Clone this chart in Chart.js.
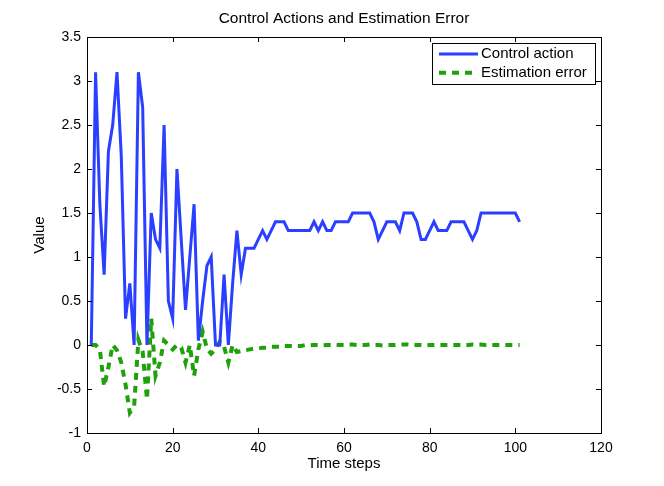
<!DOCTYPE html>
<html>
<head>
<meta charset="utf-8">
<script src="https://cdn.jsdelivr.net/npm/chart.js@4.4.1/dist/chart.umd.min.js"></script>
<style>
  html, body { margin: 0; padding: 0; background: #fff; }
  canvas { display: block; }
</style>
</head>
<body>
<canvas id="chart" width="664" height="486"></canvas>
<script>
// values, one per time step (1..101)
const controlAction = [
    0, 3.1, 1.6, 0.8, 2.2, 2.5, 3.1, 2.15, 0.3, 0.7,
    0, 3.1, 2.7, 0, 1.5, 1.2, 1.1, 2.5, 0.5, 0.3,
    2.0, 1.2, 0.4, 1.0, 1.6, 0.05, 0.5, 0.9, 1.0, 0,
    0, 0.8, 0, 0.7, 1.3, 0.8, 1.1, 1.1, 1.1, 1.2,
    1.3, 1.2, 1.3, 1.4, 1.4, 1.4, 1.3, 1.3, 1.3, 1.3,
    1.3, 1.3, 1.4, 1.3, 1.4, 1.3, 1.3, 1.4, 1.4, 1.4,
    1.4, 1.5, 1.5, 1.5, 1.5, 1.5, 1.4, 1.2, 1.3, 1.4,
    1.4, 1.4, 1.3, 1.5, 1.5, 1.5, 1.4, 1.2, 1.2, 1.3,
    1.4, 1.3, 1.3, 1.3, 1.4, 1.4, 1.4, 1.4, 1.3, 1.2,
    1.3, 1.5, 1.5, 1.5, 1.5, 1.5, 1.5, 1.5, 1.5, 1.5,
    1.4
];

const estimationError = [
    0, 0, -0.05, -0.47, -0.25, 0, -0.06, -0.2, -0.45, -0.77,
    -0.7, 0.06, -0.08, -0.62, 0.3, -0.35, -0.2, 0.05, 0, -0.05,
    0, -0.03, -0.2, 0, -0.35, -0.05, 0.15, -0.04, -0.1, -0.05,
    0.04, -0.02, -0.2, 0, -0.08, -0.07, -0.06, -0.05, -0.04, -0.04,
    -0.03, -0.03, -0.02, -0.02, -0.02, -0.01, -0.01, -0.01, -0.01, -0.01,
    0, -0.005, 0, 0, -0.005, 0, 0, 0.005, 0, 0,
    0.005, 0.005, 0, 0, 0, 0.005, 0, 0, -0.005, 0,
    0, 0, 0.005, 0.005, 0.005, 0, 0, 0, -0.005, 0,
    0, 0, 0, 0, 0, 0, 0, 0, 0, 0.005,
    0.005, 0.005, 0, 0, 0, 0, 0, 0, 0, 0,
    0
];

const timeSteps = controlAction.map((_, i) => i + 1);

const xTicks = [0, 20, 40, 60, 80, 100, 120];
const yTicks = [-1, -0.5, 0, 0.5, 1, 1.5, 2, 2.5, 3, 3.5];

const seriesNames = ['Control action', 'Estimation error'];
const chartTitle = 'Control Actions and Estimation Error';
const xTitle = 'Time steps';
const yTitle = 'Value';

const BLUE = '#2a3fff';
const GREEN = '#1fa00c';
const FONT = '"Liberation Sans", Arial, Helvetica, sans-serif';

function toPoints(values) {
    return values.map((v, i) => ({ x: timeSteps[i], y: v }));
}

// box, inward ticks, title, axis titles and legend (matlab look)
const matlabFrame = {
    id: 'matlabFrame',
    afterDatasetsDraw(chart) {
        const { ctx, chartArea: a, scales: { x, y } } = chart;
        const tick = 5;
        ctx.save();
        ctx.strokeStyle = '#000';
        ctx.lineWidth = 1;
        ctx.strokeRect(Math.round(a.left) + 0.5, Math.round(a.top) + 0.5,
                       Math.round(a.width), Math.round(a.height));
        ctx.beginPath();
        xTicks.forEach(v => {
            const px = Math.round(x.getPixelForValue(v)) + 0.5;
            ctx.moveTo(px, a.bottom); ctx.lineTo(px, a.bottom - tick);
            ctx.moveTo(px, a.top); ctx.lineTo(px, a.top + tick);
        });
        yTicks.forEach(v => {
            const py = Math.round(y.getPixelForValue(v)) + 0.5;
            ctx.moveTo(a.left, py); ctx.lineTo(a.left + tick, py);
            ctx.moveTo(a.right, py); ctx.lineTo(a.right - tick, py);
        });
        ctx.stroke();

        // texts
        ctx.fillStyle = '#000';
        ctx.textAlign = 'center';
        ctx.textBaseline = 'middle';
        ctx.font = '15.5px ' + FONT;
        ctx.fillText(chartTitle, (a.left + a.right) / 2, 19);
        ctx.font = '15px ' + FONT;
        ctx.fillText(xTitle, (a.left + a.right) / 2, 464);
        ctx.save();
        ctx.translate(40, (a.top + a.bottom) / 2);
        ctx.rotate(-Math.PI / 2);
        ctx.fillText(yTitle, 0, 0);
        ctx.restore();

        // legend
        const lx = 432, ly = 43, lw = 163, lh = 41;
        ctx.fillStyle = '#fff';
        ctx.fillRect(lx, ly, lw, lh);
        ctx.strokeStyle = '#000';
        ctx.lineWidth = 1;
        ctx.strokeRect(lx + 0.5, ly + 0.5, lw, lh);
        const rows = [
            { name: seriesNames[0], color: BLUE, width: 3, dash: [] },
            { name: seriesNames[1], color: GREEN, width: 4, dash: [7, 6] }
        ];
        rows.forEach((r, i) => {
            const ry = 54 + i * 18.7;
            ctx.beginPath();
            ctx.strokeStyle = r.color;
            ctx.lineWidth = r.width;
            ctx.setLineDash(r.dash);
            ctx.moveTo(439, ry);
            ctx.lineTo(478, ry);
            ctx.stroke();
            ctx.setLineDash([]);
            ctx.fillStyle = '#000';
            ctx.textAlign = 'left';
            ctx.fillText(r.name, 481, ry);
        });
        ctx.restore();
    }
};

const ctx = document.getElementById('chart').getContext('2d');
const chart = new Chart(ctx, {
    type: 'line',
    data: {
        datasets: [
            {
                label: seriesNames[0],
                data: toPoints(controlAction),
                borderColor: BLUE,
                backgroundColor: BLUE,
                borderWidth: 3,
                pointRadius: 0,
                tension: 0,
                fill: false
            },
            {
                label: seriesNames[1],
                data: toPoints(estimationError),
                borderColor: GREEN,
                backgroundColor: GREEN,
                borderWidth: 4,
                borderDash: [7, 6],
                borderCapStyle: 'butt',
                pointRadius: 0,
                tension: 0,
                fill: false
            }
        ]
    },
    options: {
        responsive: false,
        animation: false,
        devicePixelRatio: 1,
        layout: { padding: { left: 0, right: 63, top: 37, bottom: 0 } },
        scales: {
            x: {
                type: 'linear',
                min: 0,
                max: 120,
                afterBuildTicks: scale => { scale.ticks = xTicks.map(v => ({ value: v })); },
                afterFit: scale => { scale.height = 53; },
                grid: { display: false, drawTicks: false },
                border: { display: false },
                ticks: {
                    color: '#000', padding: 7, autoSkip: false,
                    maxRotation: 0, minRotation: 0,
                    font: { size: 14, family: FONT }
                }
            },
            y: {
                type: 'linear',
                min: -1,
                max: 3.5,
                afterBuildTicks: scale => { scale.ticks = yTicks.map(v => ({ value: v })); },
                afterFit: scale => { scale.width = 87; },
                grid: { display: false, drawTicks: false },
                border: { display: false },
                ticks: {
                    color: '#000',
                    padding: 6,
                    autoSkip: false,
                    font: { size: 14, family: FONT },
                    callback: v => String(v)
                }
            }
        },
        plugins: {
            legend: { display: false },
            title: { display: false },
            tooltip: { enabled: false }
        }
    },
    plugins: [matlabFrame]
});
</script>
</body>
</html>
